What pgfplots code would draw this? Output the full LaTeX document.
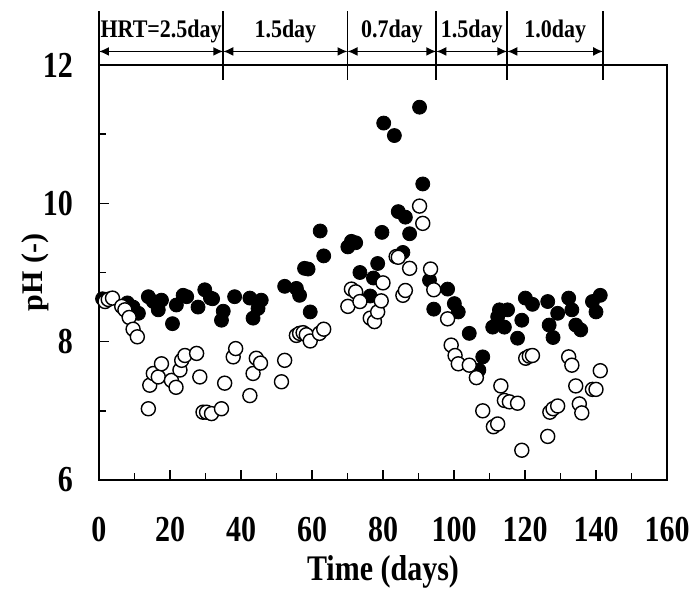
\documentclass[border=0pt]{standalone}
\usepackage{fontspec}
\setmainfont{Liberation Serif}
\usepackage{pgfplots}
\pgfplotsset{compat=1.18}
\usetikzlibrary{arrows.meta}
\begin{document}
\begin{tikzpicture}
\begin{axis}[
  scale only axis,
  width=284pt, height=207.5pt,
  xmin=0, xmax=160, ymin=6, ymax=12,
  xtick={0,20,...,160}, minor xtick={10,30,...,150},
  ytick={6,8,10,12}, minor ytick={7,9,11},
  xtick pos=bottom, ytick pos=left,
  tick align=inside,
  major tick length=5pt, minor tick length=3.5pt,
  every tick/.style={black, line width=0.8pt},
  axis line style={line width=1pt},
  /pgf/number format/assume math mode=true,
  ticklabel style={font=\fontsize{15}{15}\selectfont\bfseries},
  xticklabel={\scalebox{1}[1.22]{\pgfmathprintnumber{\tick}}},
  yticklabel={\scalebox{1}[1.22]{\pgfmathprintnumber{\tick}}},
  yticklabel style={xshift=-9.5pt},
  xticklabel style={yshift=-15pt},
  xlabel={\scalebox{1}[1.2]{Time (days)}}, ylabel={pH (-)},
  label style={font=\fontsize{15}{15}\selectfont\bfseries},
  xlabel style={at={(axis description cs:0.5,-0.2217)}, anchor=center},
  ylabel style={at={(axis description cs:-0.1127,0.5)}, anchor=center},
  clip=false,
]
\addplot[only marks, mark=*, mark size=3.5pt, mark options={draw=black, fill=black}] coordinates {
(1.0,8.62) (3.0,8.62) (8.0,8.56) (9.6,8.50) (11.1,8.41) (13.9,8.65) (15.3,8.58) (16.7,8.46) (17.6,8.60) (20.7,8.26) (21.8,8.53) (23.7,8.67) (24.7,8.65) (27.9,8.50) (29.8,8.75) (31.4,8.63) (32.0,8.62) (34.5,8.31) (35.0,8.44) (38.2,8.65) (42.5,8.63) (43.4,8.34) (44.8,8.48) (45.7,8.60)
(52.3,8.80) (55.6,8.77) (56.5,8.67) (57.9,9.06) (58.9,9.05) (59.5,8.43) (62.3,9.60) (63.3,9.24)
(70.1,9.37) (71.1,9.45) (72.3,9.43) (73.5,9.00) (76.4,8.66) (77.3,8.92) (78.5,9.13) (79.7,9.58) (80.2,11.16) (83.2,10.98) (84.3,9.88) (85.6,9.29) (86.3,9.80) (87.5,9.56) (90.3,11.39) (91.2,10.28) (93.1,8.89)
(94.3,8.47) (98.2,8.76) (100.1,8.55) (101.2,8.43) (104.3,8.12) (107.0,7.59) (108.1,7.78) (110.9,8.21) (112.3,8.36) (112.8,8.46) (114.2,8.21) (115.1,8.46)
(117.9,8.05) (119.1,8.31) (120.1,8.63) (122.1,8.54) (126.4,8.58) (126.8,8.24) (127.9,8.06) (129.2,8.41) (132.3,8.63) (133.2,8.46) (134.3,8.24) (135.7,8.17) (139.0,8.58) (140.0,8.43) (141.2,8.67)
};
\addplot[only marks, mark=*, mark size=3.5pt, mark options={draw=black, fill=white, line width=0.7pt}] coordinates {
(1.7,8.58) (2.6,8.61) (3.8,8.63) (6.4,8.51) (7.3,8.46) (8.5,8.35) (9.6,8.18) (10.8,8.07) (13.9,7.03) (14.3,7.37) (15.3,7.54) (16.7,7.49) (17.6,7.68) (20.4,7.44) (21.7,7.34) (22.8,7.59) (23.3,7.73) (24.2,7.80) (27.5,7.83) (28.4,7.49) (29.3,6.98) (30.3,6.98) (31.7,6.96) (34.5,7.03) (35.4,7.40) (37.8,7.78) (38.5,7.90) (42.5,7.22) (43.4,7.54) (44.3,7.76) (45.5,7.69)
(51.4,7.42) (52.3,7.73) (55.6,8.09) (56.5,8.12) (57.5,8.13) (58.4,8.10) (59.5,8.01) (62.1,8.12) (63.3,8.18)
(70.1,8.51) (71.1,8.76) (72.3,8.72) (73.5,8.58) (76.4,8.34) (77.6,8.29) (78.5,8.43) (79.5,8.59) (80.0,8.85) (83.7,9.23) (84.3,9.22) (85.6,8.67) (86.3,8.74) (87.5,9.06) (90.3,9.96) (91.2,9.71) (93.4,9.05) (94.3,8.75)
(98.2,8.33) (99.2,7.95) (100.3,7.80) (101.2,7.68) (104.3,7.66) (106.3,7.48) (108.1,7.00) (111.1,6.77) (112.3,6.81) (113.2,7.36) (114.2,7.15) (115.6,7.13)
(117.9,7.11) (119.1,6.43) (120.2,7.76) (121.2,7.79) (122.1,7.80) (126.4,6.63) (127.0,6.98) (127.9,7.03) (129.2,7.07) (132.3,7.78) (133.2,7.66) (134.3,7.36) (135.3,7.10) (136.0,6.97) (139.0,7.31) (140.0,7.31) (141.2,7.58)
};
% HRT header
\draw[line width=0.8pt] (axis cs:0,11.79) -- (axis cs:0,12.78);
\draw[line width=0.8pt] (axis cs:35,11.79) -- (axis cs:35,12.78);
\draw[line width=0.8pt] (axis cs:70,11.79) -- (axis cs:70,12.78);
\draw[line width=0.8pt] (axis cs:95,11.79) -- (axis cs:95,12.78);
\draw[line width=0.8pt] (axis cs:115,11.79) -- (axis cs:115,12.78);
\draw[line width=0.8pt] (axis cs:142,11.79) -- (axis cs:142,12.78);
\draw[line width=0.75pt,{Latex[length=5pt,width=4.5pt]}-{Latex[length=5pt,width=4.5pt]}] (axis cs:0,12.196) -- (axis cs:35,12.196);
\draw[line width=0.75pt,{Latex[length=5pt,width=4.5pt]}-{Latex[length=5pt,width=4.5pt]}] (axis cs:35,12.196) -- (axis cs:70,12.196);
\draw[line width=0.75pt,{Latex[length=5pt,width=4.5pt]}-{Latex[length=5pt,width=4.5pt]}] (axis cs:70,12.196) -- (axis cs:95,12.196);
\draw[line width=0.75pt,{Latex[length=5pt,width=4.5pt]}-{Latex[length=5pt,width=4.5pt]}] (axis cs:95,12.196) -- (axis cs:115,12.196);
\draw[line width=0.75pt,{Latex[length=5pt,width=4.5pt]}-{Latex[length=5pt,width=4.5pt]}] (axis cs:115,12.196) -- (axis cs:142,12.196);
\node[font=\fontsize{11}{11}\selectfont\bfseries] at (axis cs:17.5,12.49) {\scalebox{1}[1.15]{HRT=2.5day}};
\node[font=\fontsize{11}{11}\selectfont\bfseries] at (axis cs:52.5,12.49) {\scalebox{1}[1.15]{1.5day}};
\node[font=\fontsize{11}{11}\selectfont\bfseries] at (axis cs:82.5,12.49) {\scalebox{1}[1.15]{0.7day}};
\node[font=\fontsize{11}{11}\selectfont\bfseries] at (axis cs:105,12.49) {\scalebox{1}[1.15]{1.5day}};
\node[font=\fontsize{11}{11}\selectfont\bfseries] at (axis cs:128.5,12.49) {\scalebox{1}[1.15]{1.0day}};
\end{axis}
\pgfresetboundingbox
\path[use as bounding box] ([xshift=-49.5pt,yshift=-55pt]current axis.south west) rectangle ([xshift=11pt,yshift=32.5pt]current axis.north east);
\end{tikzpicture}
\end{document}
